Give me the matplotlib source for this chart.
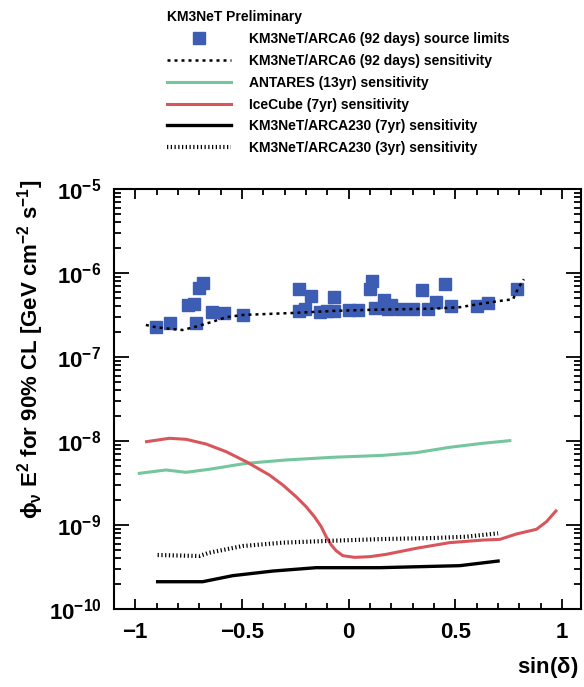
import numpy as np
import matplotlib
matplotlib.use("Agg")
import matplotlib.pyplot as plt
from matplotlib.ticker import LogLocator, MultipleLocator, NullFormatter

plt.rcParams['font.family'] = ['Liberation Sans', 'DejaVu Sans']
plt.rcParams['font.weight'] = 'bold'
plt.rcParams['mathtext.fontset'] = 'custom'
plt.rcParams['mathtext.rm'] = 'Liberation Sans:bold'
plt.rcParams['mathtext.bf'] = 'Liberation Sans:bold'
plt.rcParams['mathtext.it'] = 'Liberation Sans:italic:bold'

# source limits (ARCA6, 92 days)
src_sindec = [-0.903, -0.837, -0.754, -0.726, -0.715, -0.700, -0.682, -0.640, -0.585, -0.493,
              -0.233, -0.233, -0.203, -0.175, -0.133, -0.099, -0.066, -0.066, 0.001, 0.044,
              0.099, 0.111, 0.122, 0.164, 0.183, 0.200, 0.247, 0.302, 0.344, 0.372,
              0.412, 0.451, 0.482, 0.604, 0.654, 0.790]
src_flux = [2.30e-7, 2.56e-7, 4.16e-7, 4.28e-7, 2.56e-7, 6.58e-7, 7.67e-7, 3.40e-7, 3.31e-7, 3.16e-7,
            6.40e-7, 3.56e-7, 3.70e-7, 5.37e-7, 3.46e-7, 3.53e-7, 5.23e-7, 3.53e-7, 3.63e-7, 3.63e-7,
            6.40e-7, 8.09e-7, 3.80e-7, 4.78e-7, 3.73e-7, 4.16e-7, 3.73e-7, 3.73e-7, 6.28e-7, 3.73e-7,
            4.55e-7, 7.40e-7, 4.04e-7, 4.04e-7, 4.43e-7, 6.45e-7]

# ARCA6 sensitivity
arca6_x = [-0.95, -0.903, -0.832, -0.778, -0.715, -0.637, -0.574, -0.496, -0.230, -0.074,
           0.083, 0.239, 0.396, 0.521, 0.615, 0.709, 0.771, 0.795, 0.822]
arca6_log = [-6.619, -6.646, -6.667, -6.679, -6.639, -6.580, -6.527, -6.500, -6.473, -6.452,
             -6.440, -6.432, -6.425, -6.408, -6.369, -6.333, -6.313, -6.182, -6.075]

# ANTARES 13yr
ant_x = [-0.981, -0.856, -0.762, -0.653, -0.480, -0.292, -0.074, 0.161, 0.318, 0.474, 0.631, 0.756]
ant_log = [-8.385, -8.345, -8.373, -8.337, -8.266, -8.226, -8.194, -8.171, -8.139, -8.075, -8.027, -7.996]

# IceCube 7yr
ic_x = [-0.947, -0.840, -0.762, -0.668, -0.574, -0.480, -0.371, -0.308, -0.246, -0.199, -0.160,
        -0.128, -0.105, -0.081, -0.058, -0.027, 0.028, 0.099, 0.177, 0.318, 0.474, 0.631, 0.709,
        0.787, 0.881, 0.928, 0.972]
ic_log = [-8.008, -7.968, -7.980, -8.036, -8.127, -8.246, -8.405, -8.524, -8.663, -8.782, -8.901,
          -9.020, -9.139, -9.238, -9.306, -9.365, -9.385, -9.377, -9.349, -9.277, -9.210, -9.179,
          -9.171, -9.107, -9.051, -8.960, -8.833]

# ARCA230 7yr
a7_x = [-0.895, -0.684, -0.543, -0.355, -0.152, 0.146, 0.521, 0.701]
a7_log = [-9.675, -9.675, -9.603, -9.548, -9.508, -9.508, -9.484, -9.429]

# ARCA230 3yr
a3_x = [-0.895, -0.700, -0.653, -0.496, -0.308, -0.074, 0.161, 0.396, 0.552, 0.701]
a3_log = [-9.357, -9.369, -9.330, -9.250, -9.210, -9.187, -9.167, -9.155, -9.139, -9.099]

fig = plt.figure(figsize=(5.84, 6.87), dpi=100)
ax = fig.add_axes([0.195, 0.1135, 0.80, 0.6115])

h_src, = ax.plot(src_sindec, src_flux, 's', color='#3d5cb3', markersize=8, linestyle='none',
                 label='KM3NeT/ARCA6 (92 days) source limits', zorder=3)
h_a6, = ax.plot(arca6_x, 10 ** np.array(arca6_log), color='black', lw=1.8, linestyle=(0, (1.2, 1.6)),
                label='KM3NeT/ARCA6 (92 days) sensitivity', zorder=4)
h_ant, = ax.plot(ant_x, 10 ** np.array(ant_log), color='#74c69d', lw=2.2,
                 label='ANTARES (13yr) sensitivity')
h_ic, = ax.plot(ic_x, 10 ** np.array(ic_log), color='#d9555c', lw=2.2,
                label='IceCube (7yr) sensitivity')
h_a7, = ax.plot(a7_x, 10 ** np.array(a7_log), color='black', lw=2.4,
                label='KM3NeT/ARCA230 (7yr) sensitivity')
h_a3, = ax.plot(a3_x, 10 ** np.array(a3_log), color='black', lw=3, linestyle=(0, (0.3, 0.6)),
                label='KM3NeT/ARCA230 (3yr) sensitivity')

ax.set_yscale('log')
ax.set_xlim(-1.1, 1.09)
ax.set_ylim(1e-10, 1e-5)

ax.xaxis.set_major_locator(MultipleLocator(0.5))
ax.xaxis.set_minor_locator(MultipleLocator(0.1))
ax.yaxis.set_major_locator(LogLocator(base=10, numticks=10))
ax.yaxis.set_minor_locator(LogLocator(base=10, subs=np.arange(2, 10), numticks=20))
ax.yaxis.set_minor_formatter(NullFormatter())
ax.tick_params(which='both', direction='in', top=True, right=True, width=1.3, labelsize=16)
ax.tick_params(axis='x', which='major', length=7, pad=9)
ax.tick_params(axis='x', which='minor', length=4)
ax.tick_params(axis='y', which='major', length=11, pad=9)
ax.tick_params(axis='y', which='minor', length=5)
ax.set_xticks([-1, -0.5, 0, 0.5, 1])
ax.set_xticklabels(['\u22121', '\u22120.5', '0', '0.5', '1'])
for s in ax.spines.values():
    s.set_linewidth(1.5)
ax.xaxis.label.set_visible(False)
ax.yaxis.label.set_visible(False)

fig.text(0.052, 0.738, r'$\mathregular{\phi_{\nu}}$ $\mathregular{E^{2}}$ for 90% CL [GeV cm$^{\mathregular{-2}}$ s$^{\mathregular{-1}}$]',
         rotation=90, ha='center', va='top', fontsize=16, fontweight='bold')
fig.text(0.99, 1 - 668 / 687, r'sin($\mathregular{\delta}$)', ha='right', va='center',
         fontsize=16, fontweight='bold')

leg = fig.legend(handles=[h_src, h_a6, h_ant, h_ic, h_a7, h_a3], loc='upper left',
                 bbox_to_anchor=(0.272, 0.997), frameon=False, fontsize=10,
                 title='KM3NeT Preliminary', title_fontproperties={'weight': 'bold', 'size': 10},
                 alignment='left', handlelength=4.6, handletextpad=1.3, labelspacing=0.56,
                 borderpad=0.1)

fig.savefig('out.png', dpi=100)
